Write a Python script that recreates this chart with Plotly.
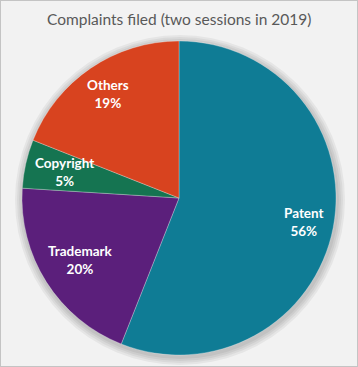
import math
import plotly.graph_objects as go

labels = ["Patent", "Trademark", "Copyright", "Others"]
values = [56, 20, 5, 19]
colors = ["#0f7c95", "#5b1f7b", "#157451", "#d8431f"]
title = "Complaints filed (two sessions in 2019)"

W, H = 358, 367
cx, cy, R = 179, 198, 157
label_radius = [0.81, 0.74, 0.75, 0.80]  # fraction of radius for each label

fig = go.Figure(go.Pie(
    labels=labels, values=values, sort=False, direction="clockwise", rotation=0,
    marker=dict(colors=colors, line=dict(color="rgba(255,255,255,0.35)", width=0.8)),
    textinfo="none", showlegend=False, hoverinfo="label+percent",
    domain=dict(x=[(cx - R) / W, (cx + R) / W], y=[1 - (cy + R) / H, 1 - (cy - R) / H]),
))

annotations = [dict(text=title, x=0.5, y=1 - 19 / H, xref="paper", yref="paper",
                    xanchor="center", yanchor="middle",
                    showarrow=False, font=dict(family="Lato", size=15.5, color="#595959"))]
total = sum(values)
cum = 0
for lab, v, k in zip(labels, values, label_radius):
    mid = (cum + v / 2) / total * 2 * math.pi
    cum += v
    px = cx + k * R * math.sin(mid)
    py = cy - k * R * math.cos(mid)
    annotations.append(dict(
        text=f"<b>{lab}</b><br><b>{round(100 * v / total)}%</b>",
        x=px / W, y=1 - py / H, xref="paper", yref="paper", showarrow=False,
        xanchor="center", yanchor="middle",
        font=dict(family="Lato", size=13.5, color="white"), align="center"))

shapes = [dict(type="rect", xref="paper", yref="paper", x0=0, y0=0, x1=1, y1=1,
               line=dict(color="#c4c4c4", width=2), layer="below")]
# soft shadow around the pie
for i, op in enumerate([0.05, 0.05, 0.05, 0.05]):
    rr = R + 2 + 2 * i
    sx, sy = cx + 1, cy + 2
    shapes.append(dict(type="circle", xref="paper", yref="paper",
                       x0=(sx - rr) / W, x1=(sx + rr) / W,
                       y0=1 - (sy + rr) / H, y1=1 - (sy - rr) / H,
                       fillcolor=f"rgba(0,0,0,{op})", line=dict(width=0), layer="below"))

fig.update_layout(
    width=W, height=H, margin=dict(l=0, r=0, t=0, b=0),
    paper_bgcolor="#f2f2f2", plot_bgcolor="#f2f2f2",
    annotations=annotations, shapes=shapes,
)

fig.write_html("out.html", post_script="document.body.style.margin='0';document.body.style.padding='0';",
               config={"displayModeBar": False})
